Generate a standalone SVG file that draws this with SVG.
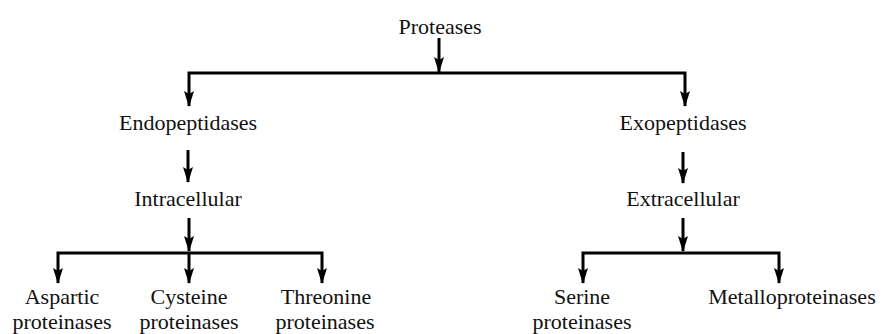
<svg xmlns="http://www.w3.org/2000/svg" width="881" height="334" viewBox="0 0 881 334">
<style>
text{font-family:"Liberation Serif","Times New Roman",serif;font-size:22px;fill:#111;text-anchor:middle}
.c{fill:none;stroke:#000;stroke-width:3;stroke-linejoin:miter;marker-end:url(#ah)}
</style>
<defs>
<marker id="ah" viewBox="0 0 16 10" refX="15" refY="5" markerWidth="16" markerHeight="10" markerUnits="userSpaceOnUse" orient="auto">
<path d="M0,0 L16,5 L0,10 L3,5 z" fill="#000"/>
</marker>
</defs>
<rect width="881" height="334" fill="#fff"/>
<g id="connectors">
<path class="c" d="M439,38 V72"/>
<path class="c" d="M439,73 H189 V106"/>
<path class="c" d="M439,73 H685 V106"/>
<path class="c" d="M188,150 V182"/>
<path class="c" d="M683,152 V183"/>
<path class="c" d="M189,218 V251"/>
<path class="c" d="M189,253 H58 V283"/>
<path class="c" d="M189,253 V283"/>
<path class="c" d="M189,253 H322 V283"/>
<path class="c" d="M683,218 V251"/>
<path class="c" d="M683,253 H583 V283"/>
<path class="c" d="M683,253 H779 V283"/>
</g>
<g id="proteases"><text x="440" y="34">Proteases</text></g>
<g id="endopeptidases"><text x="188" y="130">Endopeptidases</text></g>
<g id="exopeptidases"><text x="683" y="130">Exopeptidases</text></g>
<g id="intracellular"><text x="188" y="206">Intracellular</text></g>
<g id="extracellular"><text x="683" y="206">Extracellular</text></g>
<g id="aspartic"><text x="62" y="304">Aspartic</text><text x="62" y="329">proteinases</text></g>
<g id="cysteine"><text x="189" y="304">Cysteine</text><text x="189" y="329">proteinases</text></g>
<g id="threonine"><text x="326" y="304">Threonine</text><text x="325" y="329">proteinases</text></g>
<g id="serine"><text x="582" y="304">Serine</text><text x="582" y="329">proteinases</text></g>
<g id="metallo"><text x="792" y="304">Metalloproteinases</text></g>
</svg>
